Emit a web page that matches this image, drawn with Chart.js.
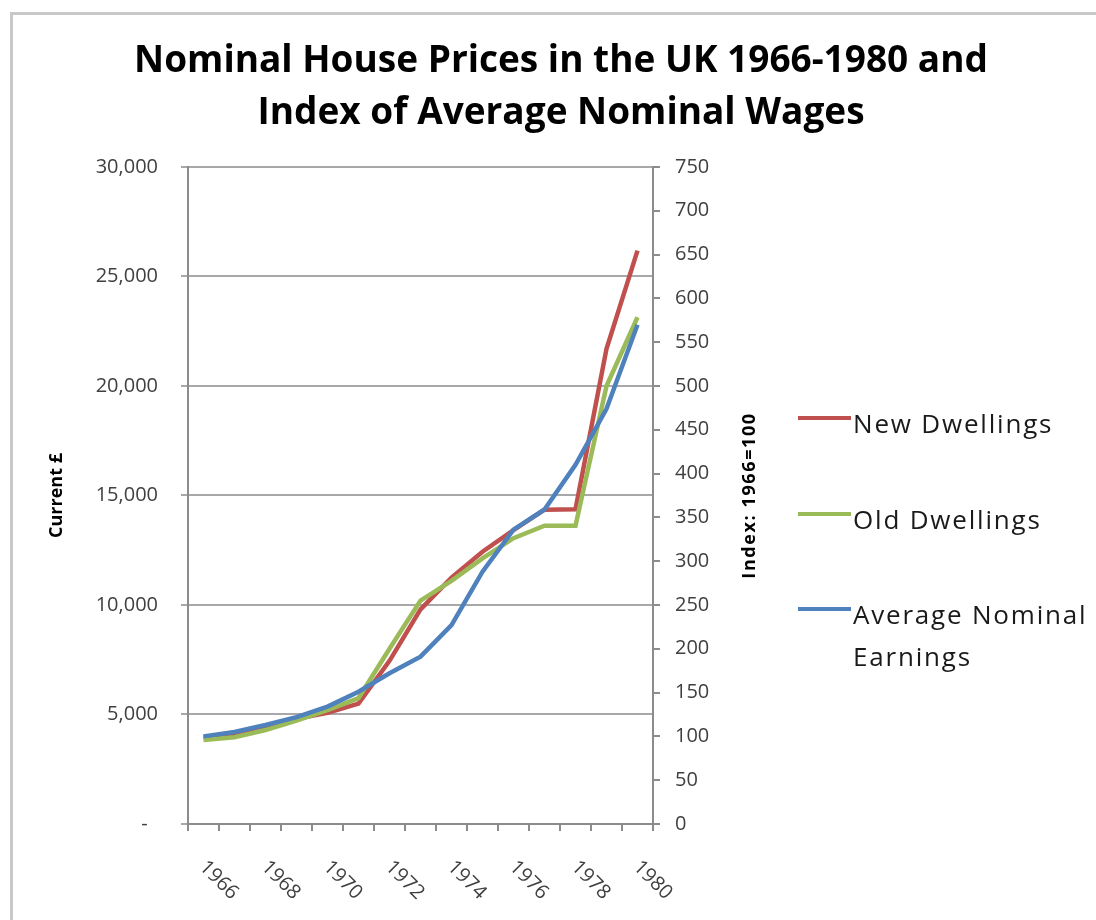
<!DOCTYPE html>
<html>
<head>
<meta charset="utf-8">
<title>Nominal House Prices in the UK 1966-1980</title>
<script src="https://cdn.jsdelivr.net/npm/chart.js@4.4.1/dist/chart.umd.min.js"></script>
<style>
  html, body { margin: 0; padding: 0; background: #fff; overflow: hidden; }
  #frame {
    position: absolute; left: 10px; top: 12px; width: 1200px; height: 1000px;
    border-left: 3px solid #c8c8c8; border-top: 3px solid #c8c8c8;
  }
  #wrap { position: absolute; left: 0; top: 0; width: 1096px; height: 920px; }
  #legend { position: absolute; left: 0; top: 0; font-family: "Open Sans", sans-serif; }
  .lg-row { position: absolute; left: 798px; width: 298px; }
  .lg-line { position: absolute; left: 0; top: 14px; width: 53px; height: 4px; }
  .lg-text {
    position: absolute; left: 55px; top: 0; width: 250px;
    font-size: 26px; line-height: 42px; letter-spacing: 1.8px; color: #1a1a1a;
  }
</style>
</head>
<body>
<div id="frame"></div>
<div id="wrap"><canvas id="chart" width="1096" height="920"></canvas></div>
<div id="legend"></div>
<script>
// ----- Data -----
const years = ['1966', '1967', '1968', '1969', '1970', '1971', '1972', '1973',
               '1974', '1975', '1976', '1977', '1978', '1979', '1980'];

// average price, current £
const newDwellings = [3950, 4110, 4400, 4800, 5080, 5500, 7450, 9800,
                      11250, 12430, 13420, 14350, 14370, 21700, 26180];
const oldDwellings = [3840, 3960, 4290, 4720, 5200, 5750, 8000, 10200,
                      11100, 12130, 13050, 13620, 13620, 20000, 23140];

// index, 1966 = 100
const avgEarnings = [100, 105, 113, 122, 134, 151, 172, 191,
                     227, 288, 336, 359, 410, 474, 570];

const seriesNames = ['New Dwellings', 'Old Dwellings', 'Average Nominal Earnings'];
const seriesColors = ['#c0504d', '#9bbb59', '#4f81bd'];

const titleLines = ['Nominal House Prices in the UK 1966-1980 and',
                    'Index of Average Nominal Wages'];

const FONT = '"Open Sans", sans-serif';
const AXIS_GREY = '#8c8c8c';
const GRID_GREY = '#a8a8a8';
const TICK_TEXT = '#404040';

// ----- Extra drawing: slanted year labels + right axis title -----
const extraText = {
  id: 'extraText',
  afterDraw(chart) {
    const { ctx, chartArea, scales } = chart;
    const xs = scales.x;
    ctx.save();
    ctx.fillStyle = TICK_TEXT;
    ctx.font = '20px ' + FONT;
    ctx.textAlign = 'left';
    ctx.textBaseline = 'middle';
    years.forEach((yr, i) => {
      if (i % 2) return;
      const x = xs.getPixelForValue(i);
      ctx.save();
      ctx.translate(x - 1, xs.top + 40);
      ctx.rotate(Math.PI / 4);
      ctx.fillText(yr, 0, 0);
      ctx.restore();
    });

    ctx.font = 'bold 18px ' + FONT;
    ctx.fillStyle = '#000';
    ctx.textAlign = 'center';
    if ('letterSpacing' in ctx) ctx.letterSpacing = '1.6px';
    ctx.translate(750, (chartArea.top + chartArea.bottom) / 2);
    ctx.rotate(-Math.PI / 2);
    ctx.fillText('Index: 1966=100', 0, 0);
    ctx.restore();
  },
};

const lineSet = (label, data, color, axis, order) => ({
  label, data, yAxisID: axis, order,
  borderColor: color,
  backgroundColor: color,
  borderWidth: 4.5,
  tension: 0,
  pointRadius: 0,
  fill: false,
});

const chart = new Chart(document.getElementById('chart'), {
  type: 'line',
  data: {
    labels: years,
    datasets: [
      lineSet(seriesNames[0], newDwellings, seriesColors[0], 'y', 3),
      lineSet(seriesNames[1], oldDwellings, seriesColors[1], 'y', 2),
      lineSet(seriesNames[2], avgEarnings, seriesColors[2], 'y1', 1),
    ],
  },
  options: {
    responsive: false,
    animation: false,
    layout: { padding: { left: 26, right: 0, top: 0, bottom: 89 } },
    plugins: {
      legend: { display: false },
      tooltip: { enabled: false },
      title: {
        display: true,
        text: titleLines,
        color: '#000',
        font: { family: FONT, size: 37, weight: 'bold', lineHeight: 1.405 },
        padding: { top: 35, bottom: 28 },
      },
    },
    scales: {
      x: {
        type: 'category',
        offset: true,
        grid: {
          offset: true, drawOnChartArea: false, drawTicks: true,
          tickLength: 7, color: AXIS_GREY, lineWidth: 2,
        },
        border: { color: AXIS_GREY, width: 2 },
        ticks: { display: false },
      },
      y: {
        position: 'left',
        min: 0, max: 30000,
        ticks: {
          stepSize: 5000, autoSkip: false, padding: 23, color: TICK_TEXT,
          font: { family: FONT, size: 20 },
          callback: v => v === 0 ? '-  ' : v.toLocaleString('en-US'),
        },
        grid: { color: GRID_GREY, lineWidth: 2, tickLength: 7 },
        border: { color: AXIS_GREY, width: 2 },
        title: {
          display: true, text: 'Current £', color: '#000',
          font: { family: FONT, size: 18, weight: 'bold' },
          padding: { top: 20, bottom: 0 },
        },
        afterFit(s) { s.width = 162; },
      },
      y1: {
        position: 'right',
        min: 0, max: 750,
        ticks: {
          stepSize: 50, autoSkip: false, padding: 15, color: TICK_TEXT,
          font: { family: FONT, size: 20 },
        },
        grid: { drawOnChartArea: false, color: AXIS_GREY, lineWidth: 2, tickLength: 7 },
        border: { color: AXIS_GREY, width: 2 },
        afterFit(s) { s.width = 443; },
      },
    },
  },
  plugins: [extraText],
});

// ----- HTML legend (wraps the long label like the original) -----
const rowTops = [402, 498, 593];
const legendEl = document.getElementById('legend');
chart.data.datasets.forEach((ds, i) => {
  const row = document.createElement('div');
  row.className = 'lg-row';
  row.style.top = rowTops[i] + 'px';
  const sw = document.createElement('div');
  sw.className = 'lg-line';
  sw.style.background = ds.borderColor;
  const txt = document.createElement('div');
  txt.className = 'lg-text';
  txt.textContent = ds.label;
  row.appendChild(sw);
  row.appendChild(txt);
  legendEl.appendChild(row);
});
</script>
</body>
</html>
